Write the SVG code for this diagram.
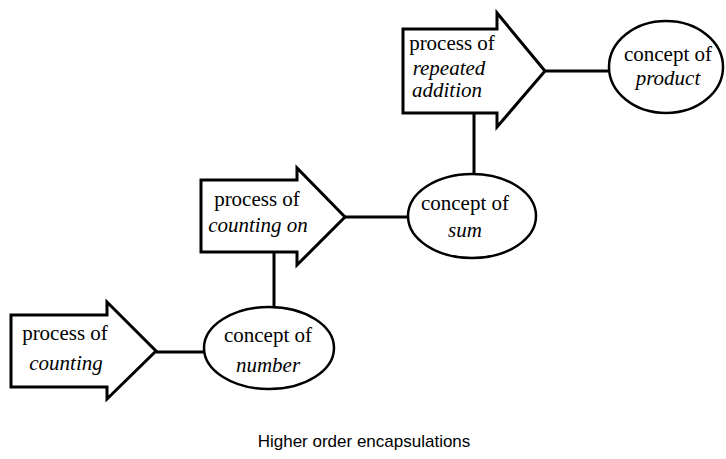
<svg xmlns="http://www.w3.org/2000/svg" width="726" height="459" viewBox="0 0 726 459">
<style>
.shape{fill:#fff;stroke:#000;stroke-width:3;stroke-linejoin:miter}
.oval{fill:#fff;stroke:#000;stroke-width:2.5}
.conn{stroke:#000;stroke-width:3;fill:none}
text{font-family:"Liberation Serif","Times New Roman",serif;font-size:21px;fill:#000;text-anchor:middle}
.it{font-style:italic}
.title{font-family:"Liberation Sans",Arial,sans-serif;font-size:17px}
</style>
<rect width="726" height="459" fill="#fff"/>
<g id="connectors">
<line class="conn" x1="156" y1="352" x2="205" y2="352"/>
<line class="conn" x1="274" y1="252" x2="274" y2="307"/>
<line class="conn" x1="345" y1="217" x2="409" y2="217"/>
<line class="conn" x1="474" y1="113" x2="474" y2="174"/>
<line class="conn" x1="545" y1="71" x2="610" y2="71"/>
</g>
<g id="process-counting">
<polygon class="shape" points="11,315 107,315 107,302 156,351 107,399 107,387 11,387"/>
<text x="65" y="340">process of</text>
<text class="it" x="66" y="370">counting</text>
</g>
<g id="concept-number">
<ellipse class="oval" cx="269" cy="348" rx="65" ry="41"/>
<text x="268" y="342">concept of</text>
<text class="it" x="268" y="372">number</text>
</g>
<g id="process-counting-on">
<polygon class="shape" points="201,180 297,180 297,168 345,217 297,265 297,252 201,252"/>
<text x="257" y="206">process of</text>
<text class="it" x="258" y="232">counting on</text>
</g>
<g id="concept-sum">
<ellipse class="oval" cx="472" cy="216" rx="64" ry="42"/>
<text x="465" y="210">concept of</text>
<text class="it" x="465" y="237">sum</text>
</g>
<g id="process-repeated-addition">
<polygon class="shape" points="403,29 497,29 497,13 545,71 497,127 497,113 403,113"/>
<text x="452" y="50">process of</text>
<text class="it" x="449" y="75">repeated</text>
<text class="it" x="447" y="97">addition</text>
</g>
<g id="concept-product">
<ellipse class="oval" cx="666" cy="67" rx="57" ry="46"/>
<text x="668" y="61">concept of</text>
<text class="it" x="668" y="85">product</text>
</g>
<text class="title" x="364" y="447">Higher order encapsulations</text>
</svg>
